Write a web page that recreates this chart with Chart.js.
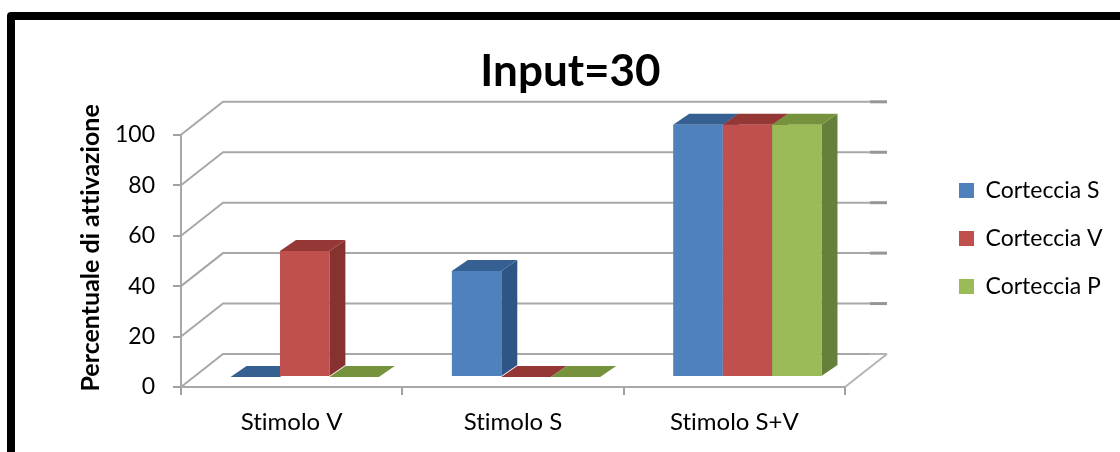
<!DOCTYPE html>
<html lang="it">
<head>
    <meta charset="UTF-8">
    <title>Input=30</title>
    <script src="https://cdn.jsdelivr.net/npm/chart.js"></script>
    <style>
        html, body { margin: 0; padding: 0; background: #fff; overflow: hidden; }
        #frame { position: absolute; left: 7px; top: 12px; width: 1120px; height: 460px; border: 8px solid #000; border-radius: 4px; }
        canvas { position: absolute; left: 0; top: 0; }
    </style>
</head>
<body>
    <div id="frame"></div>
    <canvas id="chart" width="1120" height="452"></canvas>

    <script>
        const categories = ['Stimolo V', 'Stimolo S', 'Stimolo S+V'];
        const seriesNames = ['Corteccia S', 'Corteccia V', 'Corteccia P'];
        const cortecciaS = [0, 42, 100];
        const cortecciaV = [50, 0, 100];
        const cortecciaP = [0, 0, 100];
        const yTicks = [0, 20, 40, 60, 80, 100];

        const frontColors = ['#4f81bd', '#c0504d', '#9bbb59'];
        const topColors = ['#376092', '#953735', '#76923c'];
        const sideColors = ['#2f5587', '#863230', '#65803a'];

        // profondita' del pavimento 3D e delle barre
        const wall = { dx: 42, dy: -33 };
        const barShift = { dx: 13, dy: -10 };
        const barDepth = { dx: 16, dy: -11 };

        function poly(ctx, color, pts) {
            ctx.fillStyle = color;
            ctx.beginPath();
            pts.forEach((p, i) => i ? ctx.lineTo(p[0], p[1]) : ctx.moveTo(p[0], p[1]));
            ctx.closePath();
            ctx.fill();
        }

        const fake3d = {
            id: 'fake3d',
            afterLayout(chart) {
                // legenda e titolo non seguono il layout standard
                const lg = chart.legend;
                lg.left = 934; lg.right = 1120; lg.top = 154; lg.bottom = 452;
                chart.titleBlock.left += 110;
                chart.titleBlock.right += 110;
                // titolo dell'asse y un po' piu' in alto del centro
                const yScale = chart.scales.y;
                const drawTitle = yScale.drawTitle;
                yScale.drawTitle = function () {
                    chart.ctx.save();
                    chart.ctx.translate(0, -13);
                    drawTitle.call(yScale);
                    chart.ctx.restore();
                };
            },
            beforeDraw(chart) {
                // niente legature "ti" / "tt" del Lato
                chart.ctx.textRendering = 'optimizeSpeed';
            },
            beforeDatasetsDraw(chart) {
                const ctx = chart.ctx;
                const x = chart.scales.x;
                const y = chart.scales.y;
                const right = x.right;
                ctx.save();
                // pareti di fondo
                yTicks.forEach(v => {
                    const py = y.getPixelForValue(v);
                    ctx.strokeStyle = '#a8a8a8';
                    ctx.lineWidth = 2;
                    ctx.beginPath();
                    ctx.moveTo(x.left, py);
                    ctx.lineTo(x.left + wall.dx, py + wall.dy);
                    ctx.lineTo(right + 25, py + wall.dy);
                    ctx.stroke();
                    ctx.strokeStyle = v === 0 ? '#b4b4b4' : '#969696';
                    ctx.lineWidth = v === 0 ? 2 : 3;
                    ctx.beginPath();
                    ctx.moveTo(right + 25, py + wall.dy);
                    ctx.lineTo(right + wall.dx, py + wall.dy);
                    ctx.stroke();
                });
                const py0 = y.getPixelForValue(0);
                ctx.strokeStyle = '#b4b4b4';
                ctx.lineWidth = 2;
                ctx.beginPath();
                ctx.moveTo(right, py0);
                ctx.lineTo(right + wall.dx, py0 + wall.dy);
                ctx.stroke();

                // facce superiori e laterali delle barre
                ctx.translate(barShift.dx, barShift.dy);
                categories.forEach((c, j) => {
                    chart.data.datasets.forEach((ds, i) => {
                        const bar = chart.getDatasetMeta(i).data[j];
                        const l = bar.x - bar.width / 2;
                        const r = bar.x + bar.width / 2;
                        const d = barDepth;
                        poly(ctx, sideColors[i], [[r, bar.y], [r + d.dx, bar.y + d.dy], [r + d.dx, bar.base + d.dy], [r, bar.base]]);
                        poly(ctx, topColors[i], [[l, bar.y], [l + d.dx, bar.y + d.dy], [r + d.dx, bar.y + d.dy], [r, bar.y]]);
                    });
                });
                ctx.restore();
                // le facce frontali le disegna Chart.js, spostate sul pavimento
                ctx.save();
                ctx.translate(barShift.dx, barShift.dy);
            },
            afterDatasetsDraw(chart) {
                chart.ctx.restore();
            }
        };

        const font = 'Lato, "Open Sans", sans-serif';

        new Chart(document.getElementById('chart'), {
            type: 'bar',
            plugins: [fake3d],
            data: {
                labels: categories,
                datasets: [cortecciaS, cortecciaV, cortecciaP].map((values, i) => ({
                    label: seriesNames[i],
                    data: values,
                    backgroundColor: frontColors[i],
                    borderWidth: 0,
                    clip: false,
                    categoryPercentage: 0.67,
                    barPercentage: 1
                }))
            },
            options: {
                responsive: false,
                animation: false,
                layout: { padding: { left: 76, right: 275, top: 45, bottom: 0 } },
                plugins: {
                    tooltip: { enabled: false },
                    title: {
                        display: true,
                        text: 'Input=30',
                        color: '#000',
                        font: { family: font, size: 44, weight: 'bold' },
                        padding: { top: 0, bottom: 37 }
                    },
                    legend: {
                        position: 'chartArea',
                        align: 'start',
                        labels: {
                            boxWidth: 15,
                            boxHeight: 15,
                            padding: 25,
                            color: '#000',
                            font: { family: font, size: 23 }
                        }
                    }
                },
                scales: {
                    x: {
                        afterFit(axis) { axis.height = 65; },
                        grid: { drawOnChartArea: false, color: '#a0a0a0', lineWidth: 2, tickLength: 8, offset: true },
                        border: { color: '#a8a8a8', width: 2 },
                        ticks: { color: '#000', padding: 13, maxRotation: 0, font: { family: font, size: 24 } }
                    },
                    y: {
                        min: 0,
                        max: 100,
                        afterFit(axis) { axis.width = 105; },
                        afterBuildTicks(axis) { axis.ticks = yTicks.map(v => ({ value: v })); },
                        grid: { drawOnChartArea: false, color: '#a0a0a0', lineWidth: 2, tickLength: 8 },
                        border: { color: '#a8a8a8', width: 2 },
                        ticks: { color: '#000', padding: 18, font: { family: font, size: 23 } },
                        title: {
                            display: true,
                            text: 'Percentuale di attivazione',
                            color: '#000',
                            padding: 0,
                            font: { family: font, size: 25, weight: 'bold' }
                        }
                    }
                }
            }
        });
    </script>
</body>
</html>
